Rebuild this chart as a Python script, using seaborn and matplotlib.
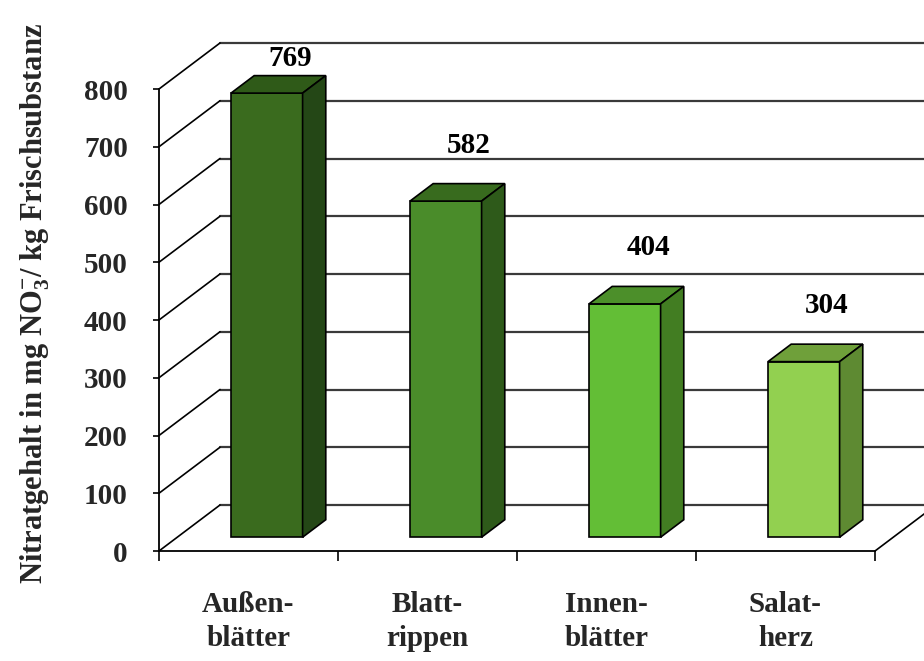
import numpy as np
import matplotlib
matplotlib.use("Agg")
import matplotlib.pyplot as plt
import seaborn as sns
import pandas as pd
from matplotlib.patches import Polygon
from matplotlib.lines import Line2D
from matplotlib.transforms import IdentityTransform, ScaledTranslation

# ---- data ----
categories = ["Außen-\nblätter", "Blatt-\nrippen", "Innen-\nblätter", "Salat-\nherz"]
values = [769, 582, 404, 304]
y_ticks = [0, 100, 200, 300, 400, 500, 600, 700, 800]
y_label = r"Nitratgehalt in mg NO$_\mathbf{3}^{\mathbf{-}}$/ kg Frischsubstanz"

front_colors = ["#3A6B1E", "#4A8C2A", "#63BE36", "#92D050"]
top_colors = ["#2F5A18", "#386B1E", "#4C8F2A", "#6FA03A"]
side_colors = ["#244716", "#2E5A1A", "#427D22", "#5E8A32"]

# ---- style ----
sns.set_theme(style="white")
plt.rcParams["font.family"] = ["Liberation Serif", "DejaVu Serif"]
plt.rcParams["font.weight"] = "bold"
plt.rcParams["mathtext.fontset"] = "custom"
plt.rcParams["mathtext.rm"] = "Liberation Serif:bold"
plt.rcParams["mathtext.bf"] = "Liberation Serif:bold"
plt.rcParams["mathtext.it"] = "Liberation Serif:bold:italic"

W, H = 924, 661
fig = plt.figure(figsize=(W / 100, H / 100), dpi=100)
fig.patch.set_facecolor("white")
x0, x1, yb, yt = 159, 875, 551, 89
ax = fig.add_axes([x0 / W, 1 - yb / H, (x1 - x0) / W, (yb - yt) / H])
ax.set_facecolor("none")

DX, DY = 61, 46      # full depth of the 3D box in pixels
D0, D1 = 0.30, 0.68  # depth range occupied by the bars

df = pd.DataFrame({"cat": categories, "val": values})
sns.barplot(data=df, x="cat", y="val", hue="cat", palette=front_colors,
            width=0.4, legend=False, ax=ax, edgecolor="black",
            linewidth=1.2, saturation=1, zorder=3)
ax.set_xlim(-0.5, len(categories) - 0.5)
ax.set_ylim(0, y_ticks[-1])
fig.canvas.draw()


def pt(x, y, d):
    X, Y = ax.transData.transform((x, y))
    return (X + d * DX, Y + d * DY)


ident = IdentityTransform()
xl_ax, xr_ax = -0.5, len(categories) - 0.5

# back wall gridlines + left diagonals
for v in y_ticks:
    a = pt(xl_ax, v, 1)
    b = pt(xr_ax, v, 1)
    ax.add_artist(Line2D([a[0], b[0]], [a[1], b[1]], transform=ident,
                         color="#3a3a3a", lw=1.6, clip_on=False, zorder=1))
    c = pt(xl_ax, v, 0)
    ax.add_artist(Line2D([c[0], a[0]], [c[1], a[1]], transform=ident,
                         color="black", lw=1.2, clip_on=False, zorder=1))
# right floor diagonal
c = pt(xr_ax, 0, 0)
a = pt(xr_ax, 0, 1)
ax.add_artist(Line2D([c[0], a[0]], [c[1], a[1]], transform=ident,
                     color="black", lw=1.2, clip_on=False, zorder=1))

# bars: shift front faces, add top and side faces
shift = ax.transData + ScaledTranslation(D0 * DX / 100, D0 * DY / 100, fig.dpi_scale_trans)
for i, p in enumerate(ax.patches):
    p.set_transform(shift)
    p.set_clip_on(False)
    xl = p.get_x()
    xr = xl + p.get_width()
    h = p.get_height()
    top = [pt(xl, h, D0), pt(xr, h, D0), pt(xr, h, D1), pt(xl, h, D1)]
    side = [pt(xr, 0, D0), pt(xr, h, D0), pt(xr, h, D1), pt(xr, 0, D1)]
    ax.add_artist(Polygon(top, closed=True, transform=ident, facecolor=top_colors[i],
                          edgecolor="black", lw=1.2, clip_on=False, zorder=3))
    ax.add_artist(Polygon(side, closed=True, transform=ident, facecolor=side_colors[i],
                          edgecolor="black", lw=1.2, clip_on=False, zorder=3))
    # value label centred over the back edge of the top face
    cx = (xl + xr) / 2
    X, _ = pt(cx, h, D1)
    _, Yf = pt(cx, h, D0)
    Y = min(Yf + 56, H - 58)
    ax.text(X, Y, f"{values[i]:g}", transform=ident, ha="center", va="center",
            fontsize=21, fontweight="bold", color="black", clip_on=False, zorder=4)

# spines / ticks
for s in ["top", "right"]:
    ax.spines[s].set_visible(False)
for s in ["left", "bottom"]:
    ax.spines[s].set_color("black")
    ax.spines[s].set_linewidth(1.3)
ax.spines["left"].set_zorder(2)
ax.spines["bottom"].set_zorder(2)

ax.set_yticks(y_ticks)
ax.set_yticklabels([str(v) for v in y_ticks], fontsize=21, fontweight="bold")
ax.tick_params(axis="y", which="major", direction="out", length=4.5, width=1.2,
               pad=18, color="black", left=True)

ax.set_xticks(np.arange(-0.5, len(categories), 1.0))
ax.set_xticklabels([""] * (len(categories) + 1))
ax.tick_params(axis="x", which="major", direction="out", length=7.5, width=1.2,
               color="black", bottom=True)
ax.set_xticks(np.arange(len(categories)), minor=True)
ax.set_xticklabels(categories, minor=True, fontsize=21, fontweight="bold",
                   linespacing=1.3)
ax.tick_params(axis="x", which="minor", length=0, pad=29)
ax.set_xlabel("")
ax.set_ylabel("")

fig.text(35 / W, 1 - 303 / H, y_label, rotation=90, ha="center", va="center",
         fontsize=22, fontweight="bold")

fig.savefig("out.png", dpi=100, facecolor="white")
